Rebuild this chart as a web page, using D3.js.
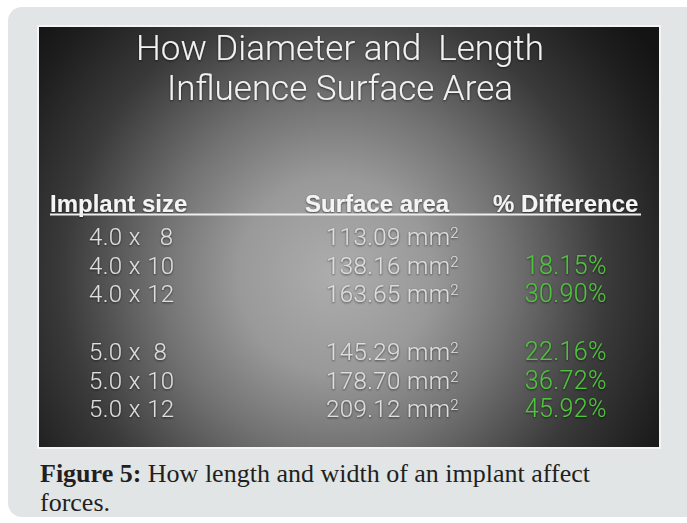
<!DOCTYPE html>
<html>
<head>
    <title>How Diameter and Length Influence Surface Area</title>
    <script src="https://d3js.org/d3.v7.min.js"></script>
    <style>
        body {
            margin: 0;
            background: #ffffff;
        }
        svg { display: block; }
    </style>
</head>
<body>
    <div id="figure"></div>

    <script>
        // Table data
        const implantSizes = ['4.0 x   8', '4.0 x 10', '4.0 x 12', '5.0 x  8', '5.0 x 10', '5.0 x 12'];
        const surfaceAreas = [113.09, 138.16, 163.65, 145.29, 178.70, 209.12];
        const pctDifference = [null, 18.15, 30.90, 22.16, 36.72, 45.92];
        const rowGroups = [0, 0, 0, 1, 1, 1];
        const headers = ['Implant size', 'Surface area', '% Difference'];

        const width = 687, height = 523;

        const svg = d3.select('#figure')
            .append('svg')
            .attr('width', width)
            .attr('height', height);

        const defs = svg.append('defs');

        // radial glow of the slide
        const grad = defs.append('radialGradient')
            .attr('id', 'slideGlow')
            .attr('gradientUnits', 'userSpaceOnUse')
            .attr('cx', 335).attr('cy', 275).attr('r', 390);
        [[0, '#adadad'], [0.25, '#999999'], [0.45, '#727272'], [0.7, '#3a3a3a'], [0.9, '#1e1e1e'], [1, '#141414']]
            .forEach(s => grad.append('stop').attr('offset', s[0]).attr('stop-color', s[1]));

        const shadow = defs.append('filter').attr('id', 'txtShadow')
            .attr('x', '-10%').attr('y', '-30%').attr('width', '120%').attr('height', '160%');
        shadow.append('feDropShadow')
            .attr('dx', 0).attr('dy', 1).attr('stdDeviation', 0.8)
            .attr('flood-color', '#000').attr('flood-opacity', 0.6);

        // outer grey card
        svg.append('rect')
            .attr('x', 8).attr('y', 7)
            .attr('width', 700).attr('height', 510)
            .attr('rx', 14)
            .attr('fill', '#e1e5e6');

        // slide with white frame
        svg.append('rect')
            .attr('x', 37).attr('y', 25)
            .attr('width', 624).attr('height', 424)
            .attr('fill', '#f4f4f4');
        svg.append('rect')
            .attr('x', 39).attr('y', 27)
            .attr('width', 620).attr('height', 420)
            .attr('fill', 'url(#slideGlow)');

        const light = "Roboto, 'Liberation Sans', sans-serif";

        // title
        const title = svg.append('text')
            .attr('text-anchor', 'middle')
            .attr('font-family', light)
            .attr('font-weight', 300)
            .attr('font-size', 35)
            .attr('fill', '#f2f2f2')
            .attr('xml:space', 'preserve')
            .style('white-space', 'pre')
            .attr('filter', 'url(#txtShadow)');
        title.append('tspan').attr('x', 340).attr('y', 60).text('How Diameter and  Length');
        title.append('tspan').attr('x', 340).attr('y', 100).text('Influence Surface Area');

        // column positions
        const headerX = { 'Implant size': 50, 'Surface area': 305, '% Difference': 493 };

        // header row
        svg.selectAll('text.header')
            .data(headers)
            .enter().append('text')
            .attr('class', 'header')
            .attr('x', d => headerX[d])
            .attr('y', 212)
            .attr('font-family', "'Liberation Sans', Arial, sans-serif")
            .attr('font-weight', 'bold')
            .attr('font-size', 24)
            .attr('fill', '#f4f4f4')
            .attr('filter', 'url(#txtShadow)')
            .text(d => d);

        svg.append('line')
            .attr('x1', 50).attr('x2', 641)
            .attr('y1', 214.5).attr('y2', 214.5)
            .attr('stroke', '#eeeeee')
            .attr('stroke-width', 2);

        // row placement: rows within a group, with a gap between groups
        const rowSlot = (d, i) => i + rowGroups[i] * 1.05;
        const y = d3.scaleLinear().domain([0, 1]).range([245, 273.5]);

        const rows = svg.selectAll('g.row')
            .data(implantSizes)
            .enter().append('g')
            .attr('class', 'row')
            .attr('transform', (d, i) => `translate(0,${y(rowSlot(d, i))})`)
            .attr('font-family', light)
            .attr('font-weight', 300)
            .attr('font-size', 24)
            .attr('letter-spacing', 0.4)
            .attr('filter', 'url(#txtShadow)');

        rows.append('text')
            .attr('x', 89)
            .attr('fill', '#dedede')
            .attr('xml:space', 'preserve')
            .style('white-space', 'pre')
            .text(d => d);

        const area = rows.append('text')
            .attr('x', 326)
            .attr('fill', '#dedede');
        area.append('tspan').text((d, i) => d3.format('.2f')(surfaceAreas[i]) + ' mm');
        area.append('tspan')
            .attr('font-size', 15)
            .attr('dy', -7)
            .text('2');

        rows.append('text')
            .attr('x', 607)
            .attr('text-anchor', 'end')
            .attr('fill', '#4fc43c')
            .attr('font-size', 25)
            .text((d, i) => pctDifference[i] == null ? '' : d3.format('.2f')(pctDifference[i]) + '%');

        // caption
        const cap = svg.append('text')
            .attr('font-family', "'Liberation Serif', 'DejaVu Serif', serif")
            .attr('font-size', 26)
            .attr('fill', '#231f20');
        const l1 = cap.append('tspan').attr('x', 40).attr('y', 482);
        l1.append('tspan').attr('font-weight', 'bold').text('Figure 5:');
        l1.append('tspan').text(' How length and width of an implant affect');
        cap.append('tspan').attr('x', 40).attr('y', 511).text('forces.');
    </script>
</body>
</html>
